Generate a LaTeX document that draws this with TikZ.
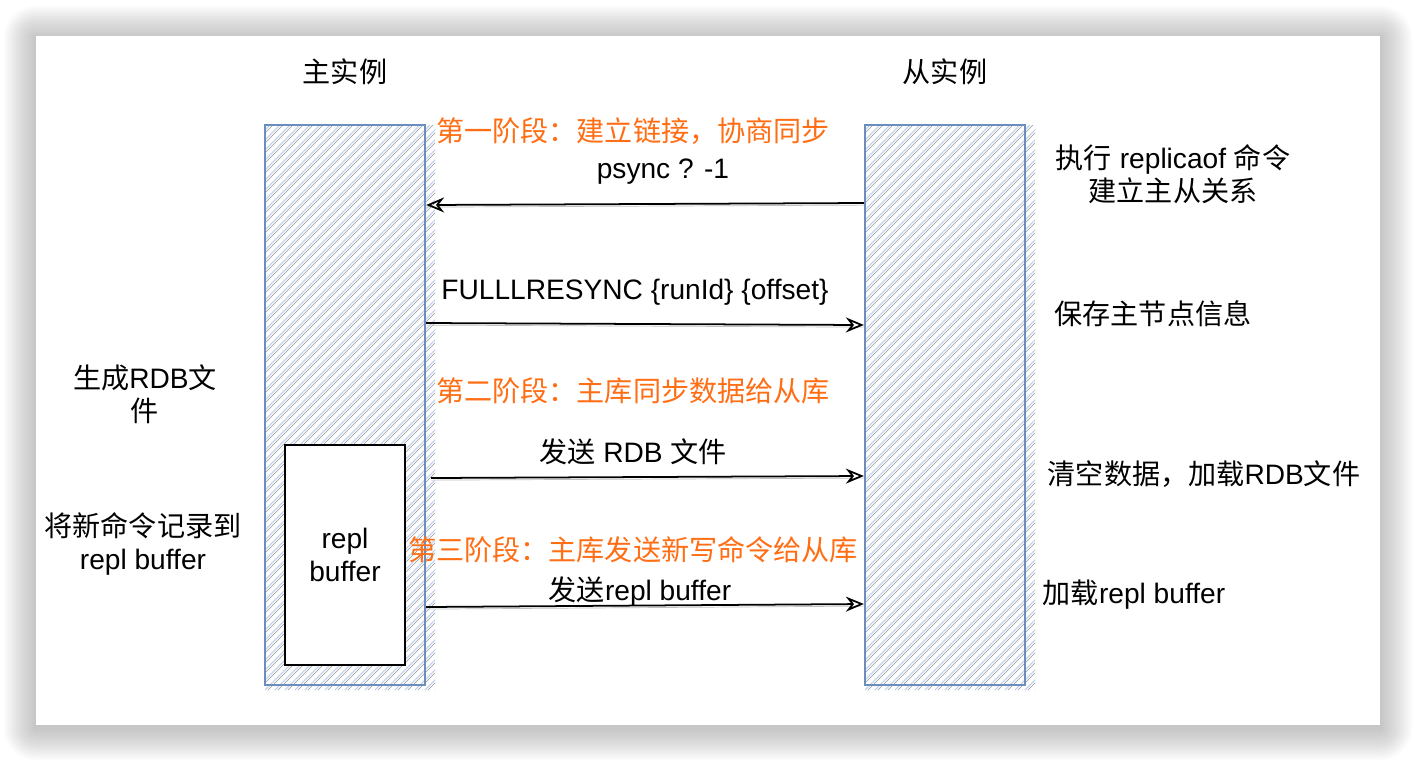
\documentclass[tikz,border=0pt]{standalone}
\usepackage{fontspec}
\setmainfont{Liberation Sans}
\newfontfamily\cjk{Noto Sans CJK SC}
\definecolor{boxblue}{RGB}{108,142,191}
\definecolor{hatchblue}{RGB}{196,213,238}
\definecolor{hatchgray}{RGB}{150,150,150}
\definecolor{phaseorange}{RGB}{255,110,20}
\usetikzlibrary{arrows.meta, positioning}

\begin{document}
\begin{tikzpicture}[x=0.02cm, y=-0.02cm, font=\fontsize{16}{19}\selectfont,
    lane/.style={draw=boxblue, line width=1.3pt, minimum width=3.2cm, minimum height=11.2cm, inner sep=0pt},
    buf/.style={draw=black, line width=1.1pt, fill=white, minimum width=2.4cm, minimum height=4.4cm, align=center},
    flow/.style={-{Stealth[open, length=0.36cm, width=0.3cm]}, line width=1pt,
                 preaction={draw=black!25, -, transform canvas={yshift=-1.2pt}}},
    phase/.style={text=phaseorange, font=\fontsize{16}{19}\selectfont\cjk},
    note/.style={align=center}]
    \useasboundingbox (0,0) rectangle (1416,762);
    % card with soft shadow
    \foreach \i [evaluate=\i as \r using \i*0.04] in {1,...,16}
      \fill[black, opacity=0.016, rounded corners=\r cm] (36-2*\i,38-2*\i) rectangle (1380+2*\i,728+2*\i);
    \fill[white] (36,36) rectangle (1380,725);

    % sketch hatching of the two instances
    \foreach \bx in {265,865} {
      \begin{scope}
        \clip (\bx,125) rectangle (\bx+170,690);
        \foreach \k in {-600,-590,...,200} {
          \draw[hatchblue, line width=0.7pt] (\bx+\k,690) -- ++(600,-600);
          \draw[hatchgray, line width=0.3pt] (\bx+\k+3,690) -- ++(600,-600);
        }
      \end{scope}
    }
    \node[lane] (master) at (345,405) {};
    \node[lane] (slave) at (945,405) {};
    \node[buf] (replbuf) at (345,555) {repl\\buffer};

    \node (mastertitle) at (345,72) {\cjk 主实例};
    \node (slavetitle) at (945,72) {\cjk 从实例};

    % phase 1
    \node[phase] (phase1) at (633,131) {第一阶段：建立链接，协商同步};
    \node (psynclbl) at (663,172) {psync ? -1};
    \draw[flow] (slave.west |- 0,203) -- (master.east |- 0,205);
    \node (fulllbl) at (635,292) {FULLLRESYNC \{runId\} \{offset\}};
    \draw[flow] (master.east |- 0,323) -- (slave.west |- 0,325);

    % phase 2
    \node[phase] (phase2) at (633,391) {第二阶段：主库同步数据给从库};
    \node (rdblbl) at (633,452) {{\cjk 发送} RDB {\cjk 文件}};
    \draw[flow] ([xshift=0.1cm]master.east |- 0,478) -- (slave.west |- 0,476);

    % phase 3
    \node[phase] (phase3) at (633,550) {第三阶段：主库发送新写命令给从库};
    \node (repllbl) at (640,592) {{\cjk 发送}repl buffer};
    \draw[flow] (master.east |- 0,607) -- (slave.west |- 0,604);

    % notes on the slave side
    \node[note] (replicaof) at (1173,174) {{\cjk 执行} replicaof {\cjk 命令}\\{\cjk 建立主从关系}};
    \node (savemaster) at (1153,314) {\cjk 保存主节点信息};
    \node (loadrdb) at (1204,474) {{\cjk 清空数据，加载}RDB{\cjk 文件}};
    \node (loadrepl) at (1134,595) {{\cjk 加载}repl buffer};

    % notes on the master side
    \node[note] (genrdb) at (145,394) {{\cjk 生成}RDB{\cjk 文}\\{\cjk 件}};
    \node[note] (recordcmd) at (143,544) {{\cjk 将新命令记录到}\\repl buffer};
\end{tikzpicture}
\end{document}
